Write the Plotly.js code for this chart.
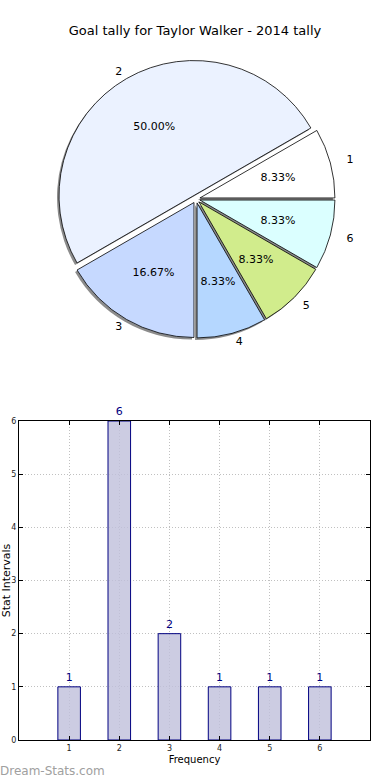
<!DOCTYPE html>
<html>
<head>
<meta charset="utf-8">
<script src="https://cdn.plot.ly/plotly-3.0.1.min.js"></script>
<style>html,body{margin:0;padding:0;background:#fff;}#chart{width:390px;height:780px;}</style>
</head>
<body>
<div id="chart"></div>
<script>
// Data
const pieLabels = ["1", "2", "3", "4", "5", "6"];
const pieValues = [1, 6, 2, 1, 1, 1];
const pieColors = ["#ffffff", "#ebf2ff", "#c6d9ff", "#b5d7ff", "#d1ec8c", "#dbffff"];
const barX = [1, 2, 3, 4, 5, 6];
const barY = [1, 6, 2, 1, 1, 1];
const xTicks = ["1", "2", "3", "4", "5", "6"];

const FONT = "DejaVu Sans, sans-serif";
const W = 390, H = 780;
const PULL = 0.03;
const pull = pieValues.map(() => PULL);
const CX = 196, CY = 199;

// pie domain from a centre and a radius in pixels
function dom(r, ox, oy) {
  const half = r * (1 + PULL);
  return {
    x: [(CX + ox - half) / W, (CX + ox + half) / W],
    y: [1 - (CY + oy + half) / H, 1 - (CY + oy - half) / H]
  };
}

const common = {
  type: "pie", labels: pieLabels, values: pieValues, sort: false,
  direction: "counterclockwise", rotation: 60, pull: pull,
  hoverinfo: "skip", showlegend: false
};
const clear = pieValues.map(() => "rgba(0,0,0,0)");

const shadow = Object.assign({}, common, {
  domain: dom(135, -2, 2),
  marker: {colors: pieValues.map(() => "#8c8c8c"), line: {width: 0}},
  textinfo: "none"
});

const main = Object.assign({}, common, {
  domain: dom(135, 0, 0),
  marker: {colors: pieColors, line: {color: "#000000", width: 0.8}},
  textinfo: "none"
});

// transparent text layers: percentages (inside) and labels (outside)
function textLayer(r, show, tmpl, pos) {
  return Object.assign({}, common, {
    domain: dom(r, 0, 0),
    marker: {colors: clear, line: {width: 0}},
    texttemplate: pieLabels.map((_, i) => show.includes(i) ? tmpl : ""),
    textposition: pos,
    insidetextorientation: "horizontal",
    textfont: {family: FONT, size: 11, color: "#000000"}
  });
}

const pctSmall = textLayer(103, [0, 3, 4, 5], "%{percent:.2%}", "inside");
const pctMid = textLayer(122, [2], "%{percent:.2%}", "inside");
const pctBig = textLayer(158, [1], "%{percent:.2%}", "inside");
const lblRight = textLayer(148, [0, 5], "%{label}", "outside");
const lblFive = textLayer(142, [4], "%{label}", "outside");
const lblOther = textLayer(137, [1, 2, 3], "%{label}", "outside");

const bars = {
  type: "bar", x: barX, y: barY, width: 0.45,
  marker: {color: "rgba(191,191,219,0.8)", line: {color: "#000080", width: 1}},
  text: barY.map(String), textposition: "outside", cliponaxis: false,
  textfont: {family: FONT, size: 11, color: "#000080"},
  xaxis: "x", yaxis: "y", showlegend: false, hoverinfo: "skip"
};

const layout = {
  width: W, height: H,
  margin: {l: 0, r: 0, t: 0, b: 0},
  paper_bgcolor: "#ffffff", plot_bgcolor: "#ffffff",
  font: {family: FONT, color: "#000000"},
  title: {text: "Goal tally for Taylor Walker - 2014 tally", font: {family: FONT, size: 13, color: "#000000"}, x: 0.5, xanchor: "center", y: 1 - 30 / H, yanchor: "middle"},
  xaxis: {
    domain: [19 / W, 370 / W], range: [0, 7],
    tickmode: "array", tickvals: barX, ticktext: xTicks,
    ticks: "inside", ticklen: 4, tickcolor: "#000", tickfont: {size: 8, color: "#222"},
    showline: true, linecolor: "#000", linewidth: 1, mirror: "ticks",
    showgrid: true, gridcolor: "#c0c0c0", griddash: "1px,2px", gridwidth: 1,
    zeroline: false, anchor: "y",
    title: {text: "Frequency", font: {size: 10, color: "#000"}, standoff: 4}
  },
  yaxis: {
    domain: [40 / H, 359 / H], range: [0, 6],
    tickmode: "linear", tick0: 0, dtick: 1,
    ticks: "inside", ticklen: 4, tickcolor: "#000", tickfont: {size: 8, color: "#222"},
    showline: true, linecolor: "#000", linewidth: 1, mirror: "ticks",
    showgrid: true, gridcolor: "#c0c0c0", griddash: "1px,2px", gridwidth: 1,
    zeroline: false, anchor: "x",
    title: {text: "Stat Intervals", font: {size: 11, color: "#000"}, standoff: 0}
  },
  annotations: [{
    text: "Dream-Stats.com", xref: "paper", yref: "paper", x: 0, y: 0,
    xanchor: "left", yanchor: "bottom", showarrow: false, yshift: 0, xshift: -2,
    font: {family: FONT, size: 12, color: "#a0a0a0"}
  }]
};

Plotly.newPlot("chart", [shadow, main, pctSmall, pctMid, pctBig, lblRight, lblFive, lblOther, bars], layout, {displayModeBar: false, staticPlot: true});
</script>
</body>
</html>
